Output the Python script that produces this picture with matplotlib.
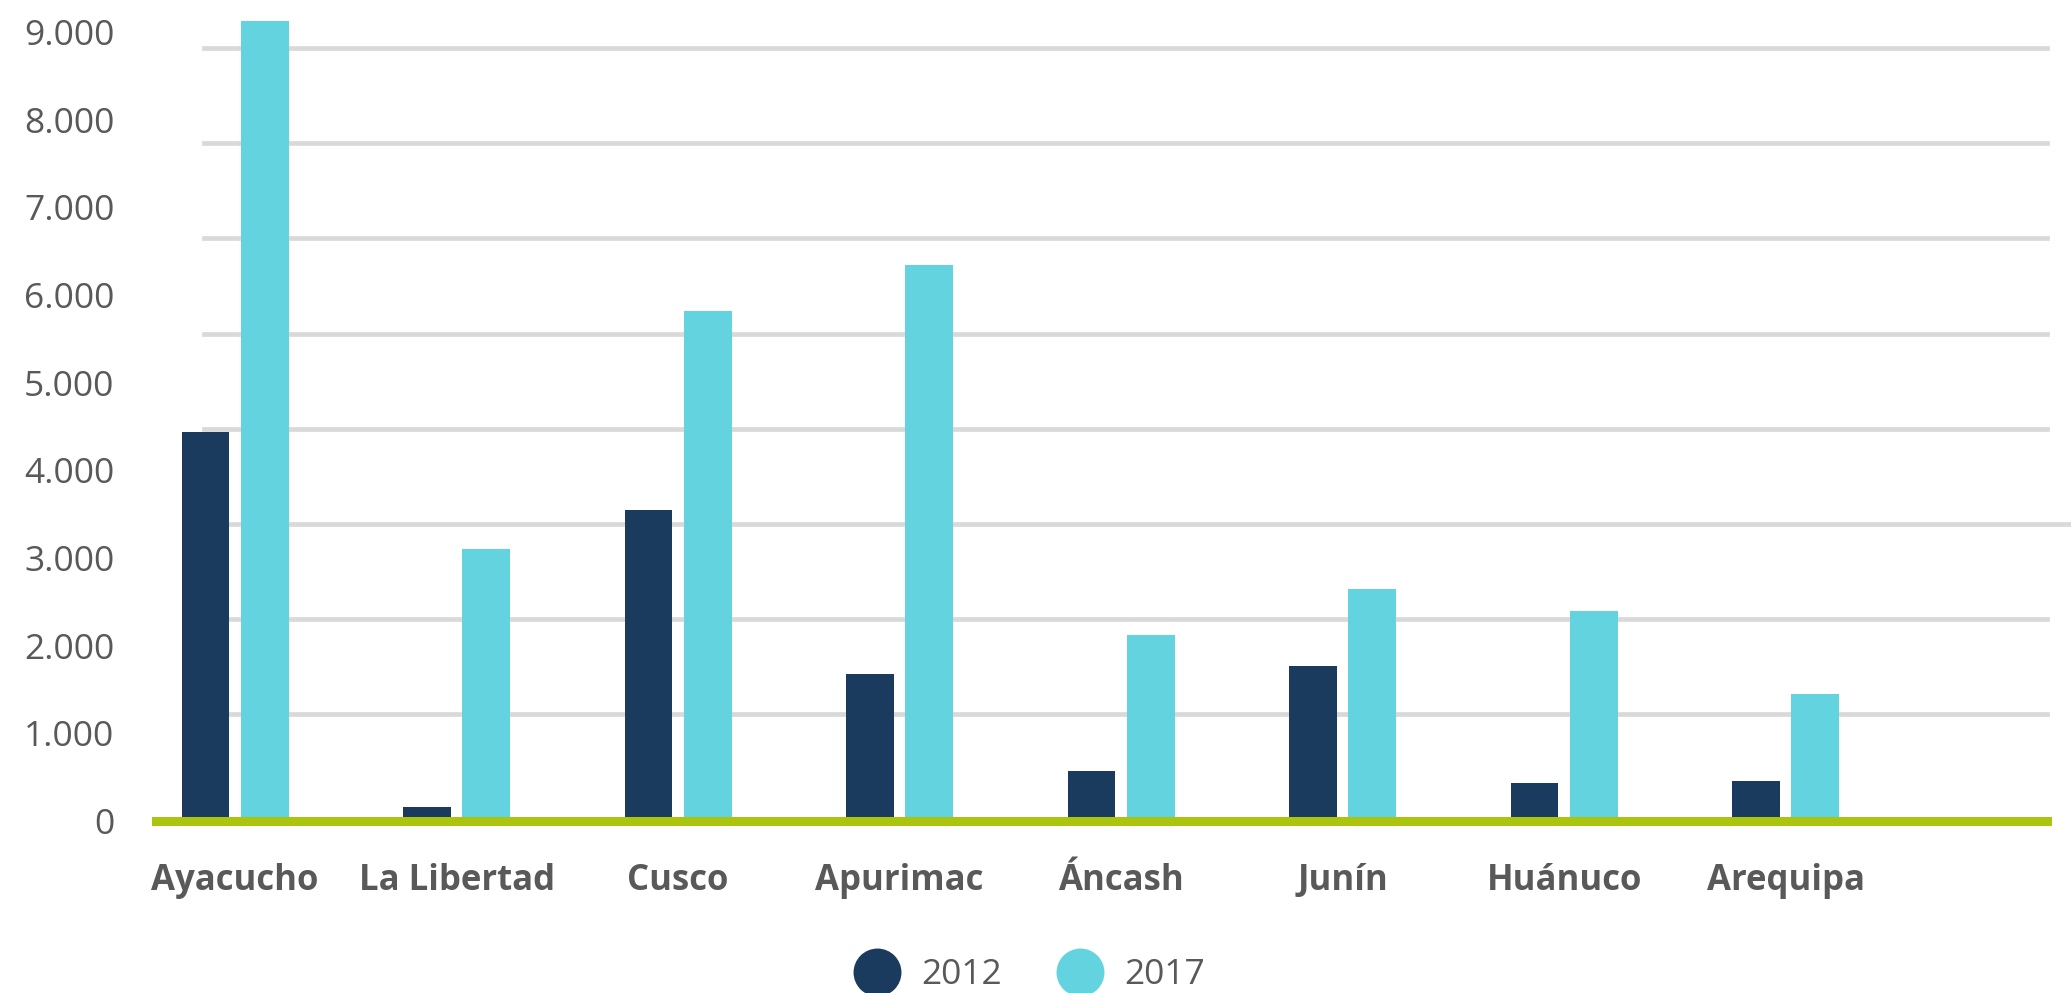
import matplotlib
matplotlib.use("Agg")
import matplotlib.pyplot as plt
from matplotlib.lines import Line2D
import numpy as np

plt.rcParams['font.family'] = ['Open Sans', 'DejaVu Sans']

categories = ["Ayacucho", "La Libertad", "Cusco", "Apurimac", "Áncash", "Junín", "Huánuco", "Arequipa"]
series_names = ["2012", "2017"]
values_2012 = [4440, 160, 3550, 1680, 570, 1770, 435, 455]
values_2017 = [9120, 3100, 5815, 6340, 2120, 2645, 2390, 1450]
y_ticks = [0, 1000, 2000, 3000, 4000, 5000, 6000, 7000, 8000, 9000]
y_tick_labels = ["0", "1.000", "2.000", "3.000", "4.000", "5.000", "6.000", "7.000", "8.000", "9.000"]

# style
c2012 = "#1A3A5E"
c2017 = "#63D3E0"
cgreen = "#ABC50E"
cgrid = "#D9D9D9"
ctext = "#595959"

W, H = 2071, 993
dpi = 100
fig = plt.figure(figsize=(W / dpi, H / dpi), dpi=dpi)

zero_px = 821.0
px_per_1000 = 87.67
ymax = 9300
left_px, right_px = 156, 2047
ax_bottom = (H - zero_px) / H
ax_height = (ymax / 1000 * px_per_1000) / H
ax = fig.add_axes([left_px / W, ax_bottom, (right_px - left_px) / W, ax_height])

x = np.arange(len(categories))
xmin, xmax = -0.357, 8.18
ax.set_xlim(xmin, xmax)
ax.set_ylim(0, ymax)

# gridlines (drawn at their own spacing, as in the reference)
grid_step, grid_offset = 1085, 135
for k in range(1, 9):
    lvl = grid_offset + grid_step * k
    ax.axhline(lvl, xmin=(-0.14 - xmin) / (xmax - xmin), xmax=1.0 if k != 3 else 1.2,
               color=cgrid, lw=3.4, zorder=1, clip_on=False)

bw = 0.215
off = 0.134
ax.bar(x - off, values_2012, width=bw, color=c2012, zorder=2, label=series_names[0])
ax.bar(x + off, values_2017, width=bw, color=c2017, zorder=2, label=series_names[1])

ax.axhline(0, color=cgreen, lw=6.5, zorder=3, clip_on=False)

for s in ax.spines.values():
    s.set_visible(False)

ax.set_yticks(y_ticks)
ax.set_yticklabels(y_tick_labels, fontsize=25.5, color=ctext)
ax.tick_params(axis='y', length=0, pad=30)
ax.set_xticks(x)
ax.set_xticklabels(categories, fontsize=25, fontweight='bold', color=ctext)
ax.tick_params(axis='x', length=0, pad=30)

handles = [Line2D([], [], marker='o', ls='', ms=34.5, color=c2012, markeredgewidth=0),
           Line2D([], [], marker='o', ls='', ms=34.5, color=c2017, markeredgewidth=0)]
leg = fig.legend(handles, series_names, loc='center', bbox_to_anchor=(0.4966, 0.018),
                 ncol=2, frameon=False, fontsize=25.5, handlelength=1.4,
                 handletextpad=0.56, columnspacing=1.5, borderpad=0)
for t in leg.get_texts():
    t.set_color(ctext)

fig.savefig("out.png", dpi=dpi)
